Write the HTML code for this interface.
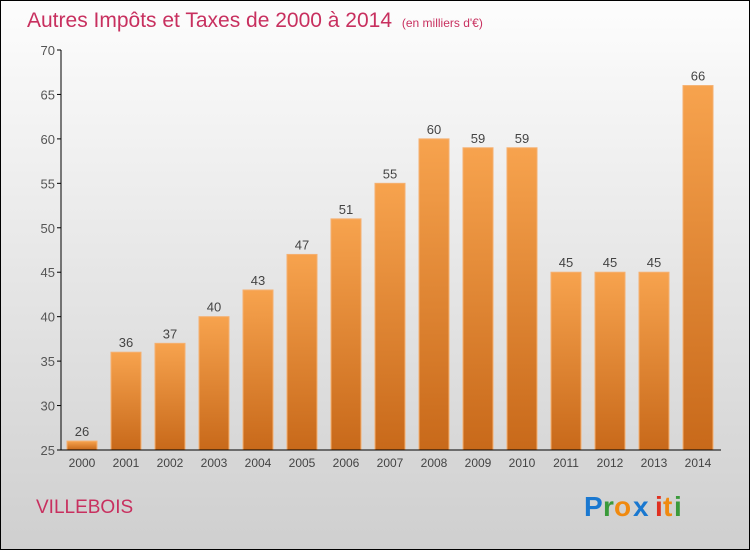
<!DOCTYPE html>
<html><head><meta charset="utf-8"><style>
body{margin:0;width:750px;height:550px;overflow:hidden;font-family:"Liberation Sans",sans-serif}
</style></head><body>
<svg width="750" height="550" xmlns="http://www.w3.org/2000/svg">
<defs>
<linearGradient id="bg" x1="0" y1="0" x2="0" y2="1"><stop offset="0" stop-color="#fdfdfd"/><stop offset="1" stop-color="#cfcfcf"/></linearGradient>
<linearGradient id="bar" x1="0" y1="0" x2="0" y2="1"><stop offset="0" stop-color="#f7a34e"/><stop offset="1" stop-color="#c8691a"/></linearGradient>
</defs>
<rect x="0.5" y="0.5" width="749" height="549" fill="url(#bg)" stroke="#000"/>
<text x="27" y="27" font-size="21" fill="#c8305f">Autres Impôts et Taxes de 2000 à 2014 <tspan font-size="12" dx="4">(en milliers d'€)</tspan></text>
<g id="grid"></g>
<g id="bars"></g>
<line x1="61" y1="50" x2="61" y2="450" stroke="#000"/>
<line x1="61" y1="450" x2="721" y2="450" stroke="#000"/>
<g id="yt"></g><g id="xt"></g>
<text x="36" y="513" font-size="19" fill="#c8305f">VILLEBOIS</text>
<g font-size="28" font-weight="bold">
<text x="584" y="516" fill="#1a78d0">P</text><text x="603" y="516" fill="#3a9a3a">r</text><text x="614" y="516" fill="#f08a10">o</text><text x="633" y="516" fill="#1a78d0">x</text><text x="655" y="516" fill="#e03020">i</text><text x="663" y="516" fill="#f08a10">t</text><text x="674" y="516" fill="#3a9a3a">i</text>
</g>
</svg>
<script>
const years=["2000","2001","2002","2003","2004","2005","2006","2007","2008","2009","2010","2011","2012","2013","2014"];
const values=[26,36,37,40,43,47,51,55,60,59,59,45,45,45,66];
const yTicks=[25,30,35,40,45,50,55,60,65,70];
const NS="http://www.w3.org/2000/svg";
const y=v=>450-(v-25)*400/45;
const x=i=>82+i*44;
function mk(t,a,p){const e=document.createElementNS(NS,t);for(const k in a)e.setAttribute(k,a[k]);document.getElementById(p).appendChild(e);return e;}
yTicks.forEach(v=>{
 const t=mk('text',{x:55,y:y(v)+5,'text-anchor':'end','font-size':13,fill:'#555'},'yt');t.textContent=v;
 
 
 const l=mk('line',{x1:57,x2:61,y1:y(v),y2:y(v),stroke:'#000'},'yt');
 
 
});
years.forEach((yr,i)=>{
 const b=mk('rect',{x:x(i)-15,y:y(values[i]),width:30,height:450-y(values[i]),fill:'url(#bar)',stroke:'#f5b070','stroke-width':1},'bars');
 
 
 const v=mk('text',{x:x(i),y:y(values[i])-5,'text-anchor':'middle','font-size':13,fill:'#444'},'bars');v.textContent=values[i];
 
 
 const t=mk('text',{x:x(i),y:467,'text-anchor':'middle','font-size':12,fill:'#444'},'xt');t.textContent=yr;
 
 
});
</script>
</body></html>
